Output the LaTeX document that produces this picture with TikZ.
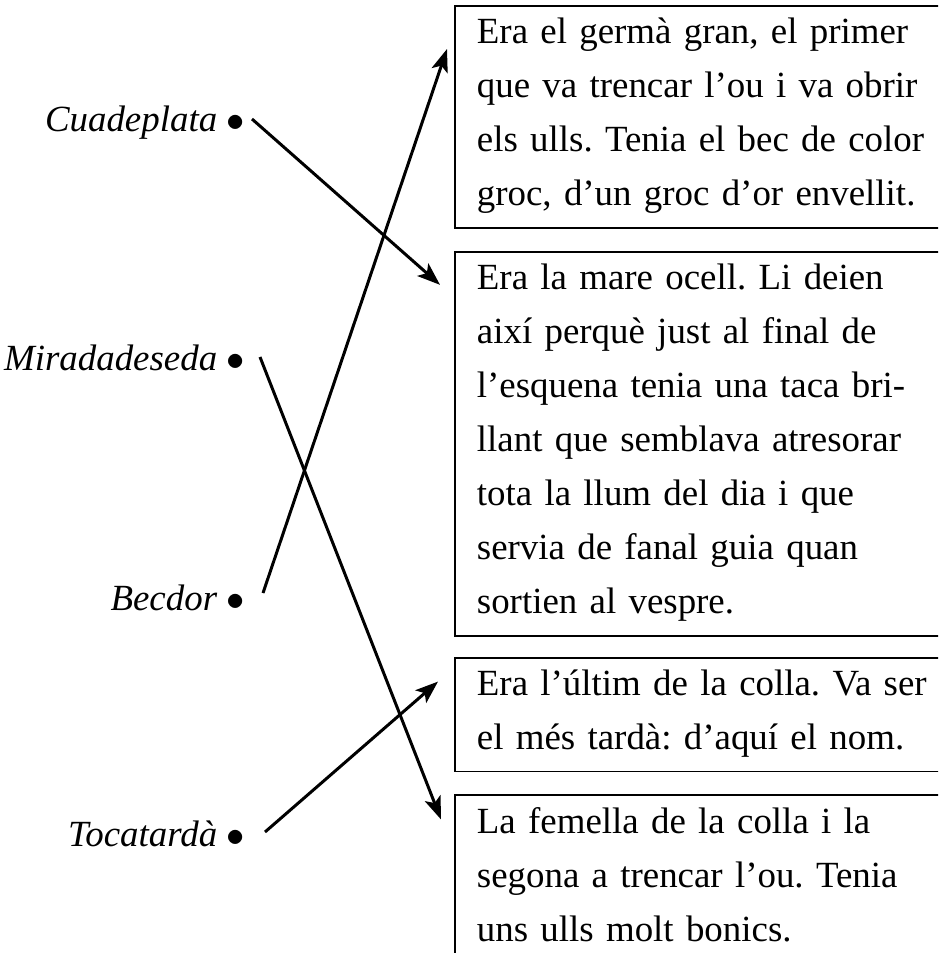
\documentclass[tikz,border=0pt]{standalone}
\usepackage{fontspec}
\setmainfont{Liberation Serif}
\usepackage{tikz}
\usetikzlibrary{arrows.meta, positioning, calc}
\newcommand{\topstrut}{\rule{0pt}{21.6pt}}
\newcommand{\botstrut}{\rule[-12.5pt]{0pt}{12.5pt}}
\frenchspacing

\begin{document}
\begin{tikzpicture}[
    x=0.02cm, y=-0.02cm,
    font=\fontsize{21pt}{30.73pt}\selectfont,
    >={Stealth[length=13pt, width=9.5pt, inset=3pt]},
    bird/.style={anchor=base east, inner sep=0pt},
    block/.style={draw, line width=1.1pt, anchor=north west, inner xsep=12.5pt, inner ysep=0pt, text width=10cm, align=left},
    arrow/.style={->, line width=1.7pt},
]
    \path[use as bounding box, clip] (0,0) rectangle (938,953);

    % Descriptions
    \node[block] (desc1) at (454,5) {\topstrut Era el germà gran, el primer\\que va trencar l’ou i va obrir\\els ulls. Tenia el bec de color\\groc, d’un groc d’or envellit.\botstrut};
    \node[block, below=0.44cm of desc1] (desc2) {\topstrut Era la mare ocell. Li deien\\així perquè just al final de\\l’esquena tenia una taca bri-\\llant que semblava atresorar\\tota la llum del dia i que\\servia de fanal guia quan\\sortien al vespre.\botstrut};
    \node[block, below=0.4cm of desc2] (desc3) {\topstrut Era l’últim de la colla. Va ser\\el més tardà: d’aquí el nom.\botstrut};
    \node[block, below=0.44cm of desc3] (desc4) {\topstrut La femella de la colla i la\\segona a trencar l’ou. Tenia\\uns ulls molt bonics.\botstrut};

    % Names
    \node[bird] (cuade) at (245,132) {\textit{Cuadeplata} $\bullet$};
    \node[bird] (mirada) at (245,370) {\textit{Miradadeseda} $\bullet$};
    \node[bird] (becdor) at (245,610) {\textit{Becdor} $\bullet$};
    \node[bird] (tocata) at (245,846) {\textit{Tocatardà} $\bullet$};

    \draw[arrow] ($(cuade.base east)+(7,-13)$) -- ($(desc2.north west)+(-14,34)$);
    \draw[arrow] ($(mirada.base east)+(15,-13)$) -- ($(desc4.north west)+(-13,25)$);
    \draw[arrow] ($(becdor.base east)+(18,-17)$) -- ($(desc1.north west)+(-7,44)$);
    \draw[arrow] ($(tocata.base east)+(20,-14)$) -- ($(desc3.north west)+(-16,25)$);
\end{tikzpicture}
\end{document}
